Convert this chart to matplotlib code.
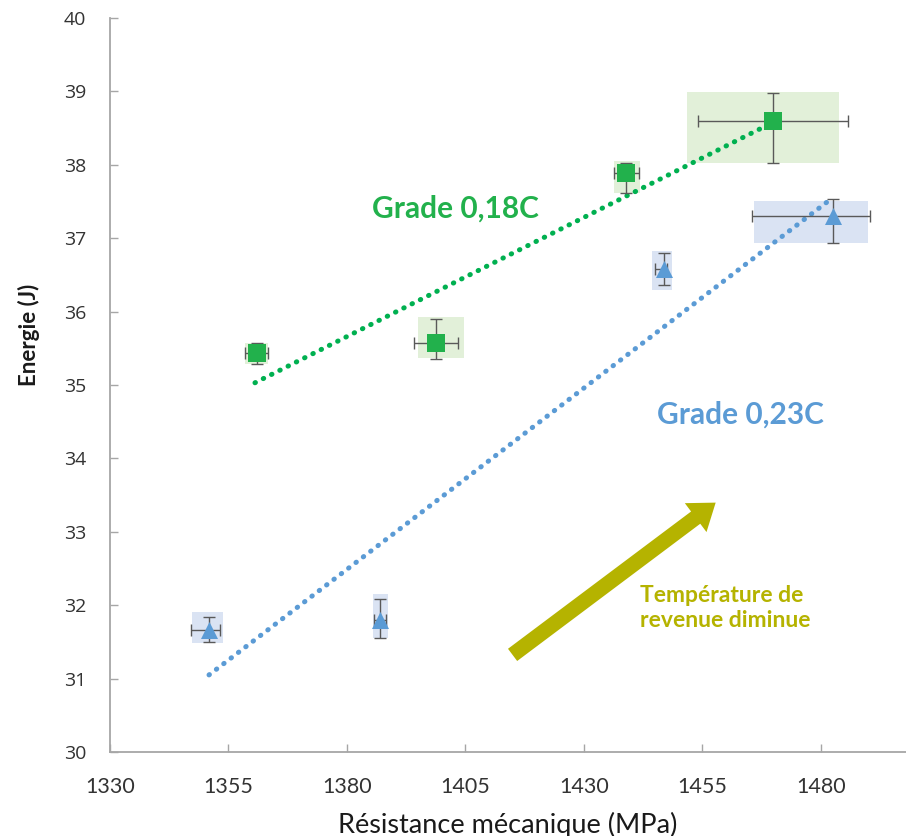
import numpy as np
import matplotlib.pyplot as plt
from matplotlib.patches import Rectangle

# --- data ---
g_x = [1361, 1398.8, 1439, 1470]
g_y = [35.43, 35.57, 37.89, 38.60]
g_xerr = [[2.4, 4.7, 2.7, 15.8], [2.4, 4.7, 2.7, 15.8]]
g_yerr = [[0.14, 0.22, 0.27, 0.57], [0.14, 0.33, 0.14, 0.38]]
g_rect_x = [[1358.6, 1363.4], [1395.0, 1404.8], [1436.3, 1441.8], [1451.8, 1483.8]]
g_rect_y = [[35.28, 35.57], [35.37, 35.92], [37.62, 38.05], [38.02, 38.99]]

b_x = [1351, 1387, 1447, 1482.5]
b_y = [31.66, 31.80, 36.58, 37.30]
b_xerr = [[4.0, 1.3, 1.9, 16.9], [2.3, 1.3, 0.5, 8.0]]
b_yerr = [[0.16, 0.25, 0.22, 0.37], [0.18, 0.28, 0.22, 0.23]]
b_rect_x = [[1347.3, 1353.8], [1385.5, 1388.6], [1444.3, 1448.6], [1465.9, 1489.9]]
b_rect_y = [[31.49, 31.91], [31.55, 32.15], [36.30, 36.82], [36.93, 37.50]]

g_trend_x = [1360.6, 1470]
g_trend_y = [35.03, 38.58]
b_trend_x = [1350.9, 1482.5]
b_trend_y = [31.05, 37.55]

xticks = [1330, 1355, 1380, 1405, 1430, 1455, 1480]
yticks = list(range(30, 41))

green = '#22b14c'
green_line = '#00b050'
green_fill = '#e2f0d9'
blue = '#5b9bd5'
blue_fill = '#dae3f3'
olive = '#b5b300'
grey = '#595959'

fig = plt.figure(figsize=(9.06, 8.36), dpi=100)
ax = fig.add_axes([0.1214, 0.1005, 0.8786, 0.878])

for (x0, x1), (y0, y1) in zip(g_rect_x, g_rect_y):
    ax.add_patch(Rectangle((x0, y0), x1 - x0, y1 - y0, color=green_fill, lw=0, zorder=1))
for (x0, x1), (y0, y1) in zip(b_rect_x, b_rect_y):
    ax.add_patch(Rectangle((x0, y0), x1 - x0, y1 - y0, color=blue_fill, lw=0, zorder=1))

ax.plot(g_trend_x, g_trend_y, color=green_line, lw=3.6, linestyle=(0, (0.1, 1.75)),
        dash_capstyle='round', zorder=2)
ax.plot(b_trend_x, b_trend_y, color=blue, lw=3.6, linestyle=(0, (0.1, 1.75)),
        dash_capstyle='round', zorder=2)

ax.errorbar(g_x, g_y, xerr=g_xerr, yerr=g_yerr, fmt='none', ecolor=grey,
            elinewidth=1, capsize=4, capthick=1, zorder=3)
ax.errorbar(b_x, b_y, xerr=b_xerr, yerr=b_yerr, fmt='none', ecolor=grey,
            elinewidth=1, capsize=4, capthick=1, zorder=3)
ax.scatter(g_x, g_y, marker='s', s=150, color=green, zorder=4, lw=0)
ax.scatter(b_x, b_y, marker='^', s=150, color=blue, zorder=4, lw=0)

ax.text(1403, 37.4, 'Grade 0,18C', color=green, fontsize=21.5, fontweight='bold',
        family='Lato', ha='center', va='center')
ax.text(1463, 34.59, 'Grade 0,23C', color=blue, fontsize=21.5, fontweight='bold',
        family='Lato', ha='center', va='center')

ax.annotate('', xy=(1458.3, 33.42), xytext=(1414.5, 31.3),
            arrowprops=dict(arrowstyle='simple,head_length=0.9,head_width=1.3,tail_width=0.55',
                            color=olive, lw=0, mutation_scale=20))
ax.text(1441.8, 31.96, 'Température de\nrevenue diminue', color=olive, fontsize=16.5,
        fontweight='bold', family='Lato', ha='left', va='center', linespacing=1.2)

ax.set_xlim(1330, 1498)
ax.set_ylim(30, 40)
ax.set_xticks(xticks)
ax.set_yticks(yticks)
for s in ['top', 'right']:
    ax.spines[s].set_visible(False)
for s in ['left', 'bottom']:
    ax.spines[s].set_color('#a6a6a6')
    ax.spines[s].set_linewidth(1.3)
ax.tick_params(axis='both', direction='in', length=6, color='#a6a6a6', width=1)
ax.tick_params(axis='y', pad=17, labelsize=14, labelcolor='#333333')
ax.tick_params(axis='x', pad=18, labelsize=15.5, labelcolor='#333333')
for lab in ax.get_yticklabels():
    lab.set_family('Open Sans')
for lab in ax.get_xticklabels():
    lab.set_family('Lato')

ax.set_xlabel('Résistance mécanique (MPa)', fontsize=19.5, family='Lato', color='#1a1a1a')
ax.xaxis.set_label_coords(0.5, -0.081)
ax.set_ylabel('Energie (J)', fontsize=16, family='Lato', fontweight='bold', color='#1a1a1a')
ax.yaxis.set_label_coords(-0.088, 0.568)

fig.savefig('out.png', dpi=100)
